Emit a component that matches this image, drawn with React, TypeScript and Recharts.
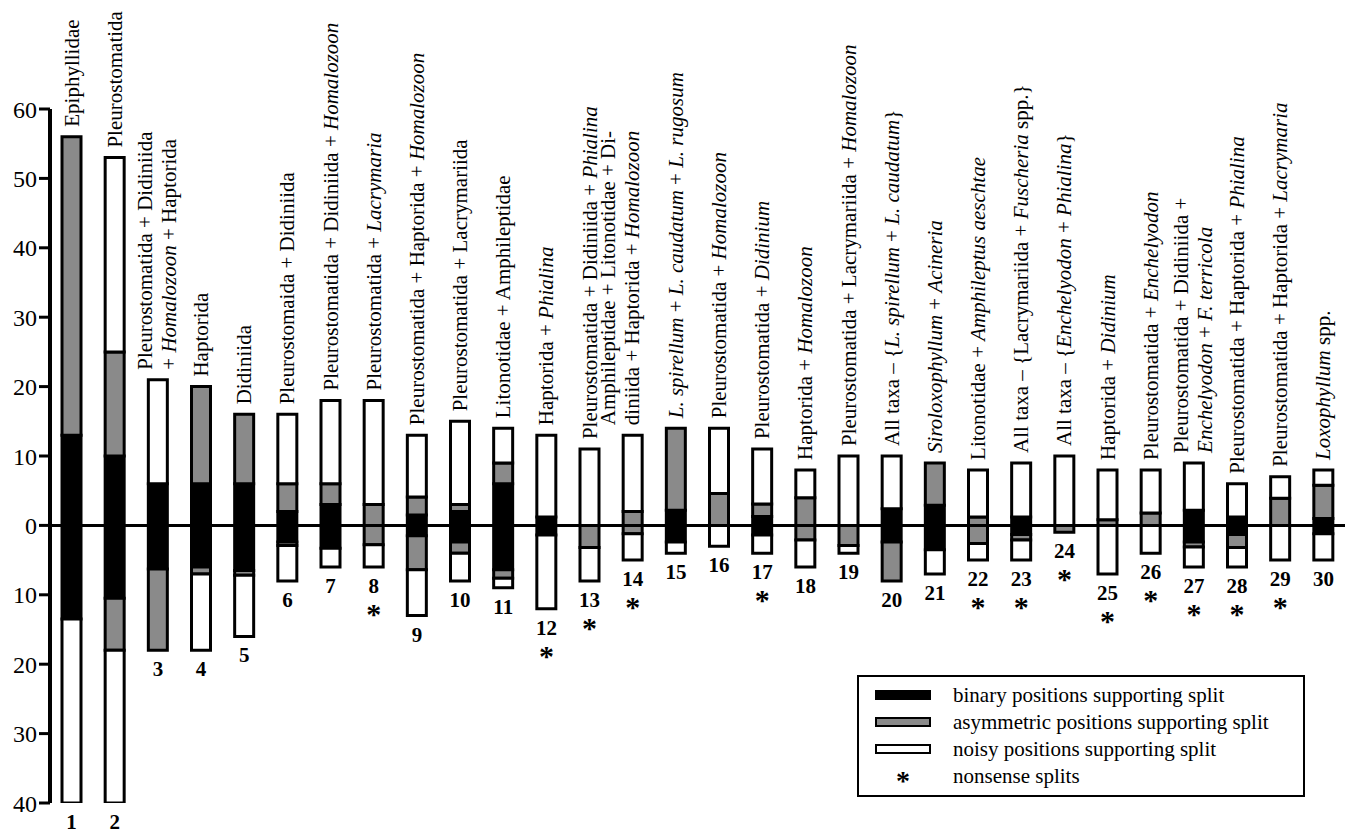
import {
  Bar,
  ComposedChart,
  LabelList,
  Legend,
  Line,
  ReferenceLine,
  XAxis,
  YAxis,
} from "recharts";

const SERIF = "Liberation Serif, Tinos, DejaVu Serif, serif";
const GRAY = "#8a8a8a";

// split numbers along the x axis
const splitNums = [
  1, 2, 3, 4, 5, 6, 7, 8, 9, 10, 11, 12, 13, 14, 15, 16, 17, 18, 19, 20, 21,
  22, 23, 24, 25, 26, 27, 28, 29, 30,
];

// "|" starts a second line, *...* is italic
const splitNames = [
  "Epiphyllidae",
  "Pleurostomatida",
  "Pleurostomatida + Didiniida|+ *Homalozoon* + Haptorida",
  "Haptorida",
  "Didiniida",
  "Pleurostomaida + Didiniida",
  "Pleurostomatida + Didiniida + *Homalozoon*",
  "Pleurostomatida + *Lacrymaria*",
  "Pleurostomatida + Haptorida + *Homalozoon*",
  "Pleurostomatida + Lacrymariida",
  "Litonotidae + Amphileptidae",
  "Haptorida + *Phialina*",
  "Pleurostomatida + Didiniida + *Phialina*",
  "Amphileptidae + Litonotidae + Di-|diniida + Haptorida + *Homalozoon*",
  "*L. spirellum* + *L. caudatum* + *L. rugosum*",
  "Pleurostomatida + *Homalozoon*",
  "Pleurostomatida + *Didinium*",
  "Haptorida + *Homalozoon*",
  "Pleurostomatida + Lacrymariida + *Homalozoon*",
  "All taxa – {*L. spirellum* + *L. caudatum*}",
  "*Siroloxophyllum* + *Acineria*",
  "Litonotidae + *Amphileptus aeschtae*",
  "All taxa – {Lacrymariida + *Fuscheria* spp.}",
  "All taxa – {*Enchelyodon* +  *Phialina*}",
  "Haptorida + *Didinium*",
  "Pleurostomatida + *Enchelyodon*",
  "Pleurostomatida + Didiniida +|*Enchelyodon* + *F. terricola*",
  "Pleurostomatida + Haptorida + *Phialina*",
  "Pleurostomatida + Haptorida + *Lacrymaria*",
  "*Loxophyllum* spp.",
];

const nonsenseSplits = [8, 12, 13, 14, 17, 22, 23, 24, 25, 26, 27, 28, 29];

// positions supporting the split (upper half)
const binaryUp = [
  13, 10, 6, 6, 6, 2, 3, 0, 1.5, 2, 6, 1.2, 0, 0, 2.2, 0, 1.3, 0, 0, 2.4, 2.9,
  0, 1.2, 0, 0, 0, 2.2, 1.2, 0, 1,
];
const asymUp = [
  43, 15, 0, 14, 10, 4, 3, 3, 2.6, 1, 3, 0, 0, 2, 11.8, 4.6, 1.8, 4, 0, 0, 6.1,
  1.2, 0, 0, 0.8, 1.8, 0, 0, 3.9, 4.8,
];
const noisyUp = [
  0, 28, 15, 0, 0, 10, 12, 15, 8.9, 12, 5, 11.8, 11, 11, 0, 9.4, 7.9, 4, 10,
  7.6, 0, 6.8, 7.8, 10, 7.2, 6.2, 6.8, 4.8, 3.1, 2.2,
];

// positions conflicting (lower half), as magnitudes
const binaryDown = [
  13.5, 10.5, 6.3, 6, 6.5, 2.4, 3.3, 0, 1.5, 2.4, 6.4, 1.4, 0, 0, 2.4, 0, 1.4,
  0, 0, 2.4, 3.5, 0, 1.3, 0, 0, 0, 2.4, 1.3, 0, 1.2,
];
const asymDown = [
  0, 7.5, 11.7, 1, 0.7, 0.5, 0, 2.8, 4.9, 1.6, 1.2, 0, 3.2, 1.2, 0, 0, 0, 2.1,
  2.9, 5.6, 0, 2.6, 0.8, 1, 0, 0, 0.7, 1.9, 0, 0,
];
const noisyDown = [
  26.5, 22, 0, 11, 8.8, 5.1, 2.7, 3.2, 6.6, 4, 1.4, 10.6, 4.8, 3.8, 1.6, 3, 2.6,
  3.9, 1.1, 0, 3.5, 2.4, 2.9, 0, 7, 4, 2.9, 2.8, 5, 3.8,
];

const yTicks = [-40, -30, -20, -10, 0, 10, 20, 30, 40, 50, 60];

const legendItems = [
  { label: "binary positions supporting split", kind: "black" },
  { label: "asymmetric positions supporting split", kind: "gray" },
  { label: "noisy positions supporting split", kind: "white" },
  { label: "nonsense splits", kind: "star" },
];

const rows = splitNums.map((num, i) => ({
  num,
  binUp: binaryUp[i],
  asyUp: asymUp[i],
  noiUp: noisyUp[i],
  binDown: -binaryDown[i],
  asyDown: -asymDown[i],
  noiDown: -noisyDown[i],
  top: binaryUp[i] + asymUp[i] + noisyUp[i],
  bottom: -(binaryDown[i] + asymDown[i] + noisyDown[i]),
}));

// two-line labels sit a bit left of the bar centre
const twoLineShift: Record<number, number> = { 14: -18 };

function pointOf(props: any) {
  const vb = props.viewBox ?? props;
  return { x: vb.x + (vb.width || 0) / 2, y: vb.y };
}

function NameLabel(props: any) {
  const { x, y } = pointOf(props);
  const idx = props.index;
  const lines = splitNames[idx].split("|");
  const start = y - 10;
  const first =
    lines.length === 1 ? x + 7 : x + (twoLineShift[splitNums[idx]] ?? -6);

  return (
    <g>
      {lines.map((line, li) => {
        const bx = first + li * 24;
        return (
          <text
            key={li}
            x={bx}
            y={start}
            transform={`rotate(-90 ${bx} ${start})`}
            fontSize={21}
            fontFamily={SERIF}
            fill="#000"
          >
            {line.split("*").map((part, k) => (
              <tspan key={k} fontStyle={k % 2 ? "italic" : "normal"}>
                {part}
              </tspan>
            ))}
          </text>
        );
      })}
    </g>
  );
}

function NumLabel(props: any) {
  const { x, y } = pointOf(props);
  const num = splitNums[props.index];

  return (
    <g>
      <text
        x={x}
        y={y + 26}
        textAnchor="middle"
        fontSize={21}
        fontWeight="bold"
        fontFamily={SERIF}
        fill="#000"
      >
        {num}
      </text>
      {nonsenseSplits.includes(num) && (
        <text
          x={x}
          y={y + 57}
          textAnchor="middle"
          fontSize={30}
          fontWeight="bold"
          fontFamily={SERIF}
          fill="#000"
        >
          *
        </text>
      )}
    </g>
  );
}

function LegendBox() {
  return (
    <div
      style={{
        width: 448,
        height: 122,
        boxSizing: "border-box",
        border: "2px solid #000",
        background: "#fff",
        position: "relative",
        fontFamily: SERIF,
        fontSize: 21,
        color: "#000",
      }}
    >
      {legendItems.map((item, i) => (
        <div
          key={item.label}
          style={{
            position: "absolute",
            left: 16,
            top: 6 + i * 27,
            height: 24,
            display: "flex",
            alignItems: "center",
            whiteSpace: "nowrap",
          }}
        >
          <div
            style={{
              width: 56,
              height: 24,
              display: "flex",
              alignItems: "center",
              justifyContent: "center",
              marginRight: 22,
            }}
          >
            {item.kind === "star" ? (
              <span style={{ fontSize: 28, fontWeight: "bold", marginTop: 10 }}>
                *
              </span>
            ) : (
              <div
                style={{
                  width: 56,
                  height: 10,
                  boxSizing: "border-box",
                  border: "2px solid #000",
                  background:
                    item.kind === "black"
                      ? "#000"
                      : item.kind === "gray"
                      ? GRAY
                      : "#fff",
                }}
              />
            )}
          </div>
          <span>{item.label}</span>
        </div>
      ))}
    </div>
  );
}

export default function App() {
  const seg = { stackId: "s", stroke: "#000", strokeWidth: 3, isAnimationActive: false };

  return (
    <div style={{ position: "relative", width: 1350, height: 834, background: "#fff", fontFamily: SERIF }}>
      <style>{`body{margin:0}`}</style>
      <ComposedChart
        width={1350}
        height={834}
        data={rows}
        stackOffset="sign"
        barSize={19}
        margin={{ top: 109, right: 5, bottom: 31, left: 0 }}
        style={{ fontFamily: SERIF }}
      >
        <XAxis dataKey="num" hide />
        <YAxis
          width={50}
          domain={[-40, 60]}
          ticks={yTicks}
          allowDataOverflow
          interval={0}
          tickFormatter={(v) => String(Math.abs(Number(v)))}
          tick={{ fontSize: 24, fill: "#000", fontFamily: SERIF }}
          tickSize={11}
          tickMargin={2}
          axisLine={{ stroke: "#000", strokeWidth: 4 }}
          tickLine={{ stroke: "#000", strokeWidth: 3 }}
        />
        <Bar dataKey="binUp" fill="#000" {...seg} />
        <Bar dataKey="asyUp" fill={GRAY} {...seg} />
        <Bar dataKey="noiUp" fill="#fff" {...seg} />
        <Bar dataKey="binDown" fill="#000" {...seg} />
        <Bar dataKey="asyDown" fill={GRAY} {...seg} />
        <Bar dataKey="noiDown" fill="#fff" {...seg} />
        <ReferenceLine y={0} stroke="#000" strokeWidth={3} />
        <Line
          dataKey="top"
          stroke="none"
          dot={false}
          activeDot={false}
          legendType="none"
          isAnimationActive={false}
        >
          <LabelList dataKey="num" content={<NameLabel />} />
        </Line>
        <Line
          dataKey="bottom"
          stroke="none"
          dot={false}
          activeDot={false}
          legendType="none"
          isAnimationActive={false}
        >
          <LabelList dataKey="num" content={<NumLabel />} />
        </Line>
        <Legend
          layout="horizontal"
          verticalAlign="middle"
          align="center"
          wrapperStyle={{ left: 857, top: 675, width: 448, height: 122 }}
          content={() => <LegendBox />}
        />
      </ComposedChart>
    </div>
  );
}
